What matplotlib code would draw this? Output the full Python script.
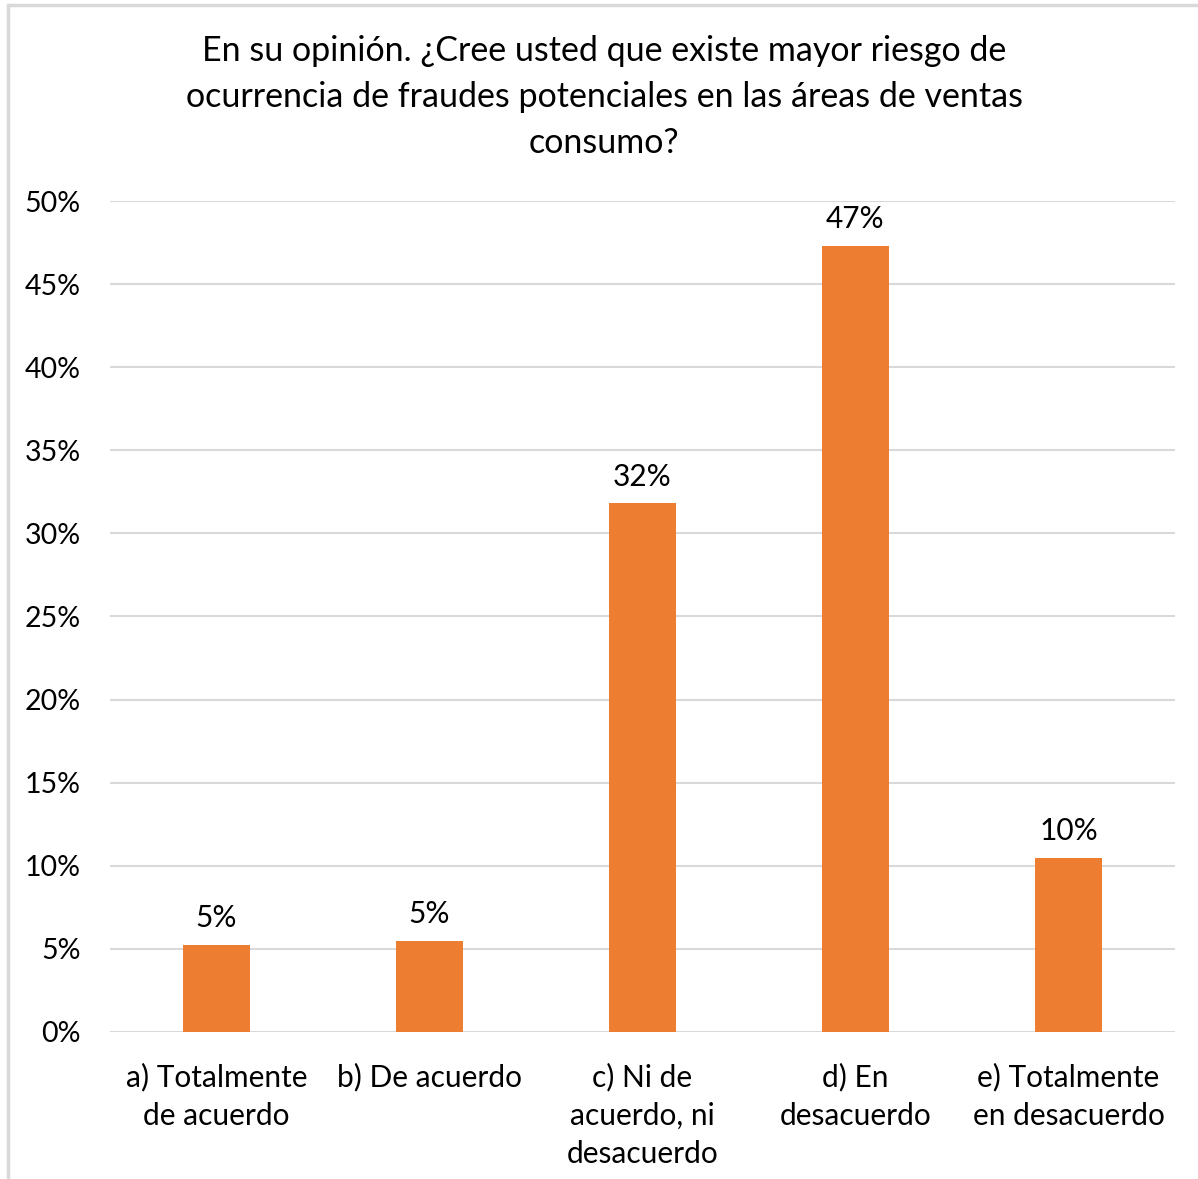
import matplotlib
matplotlib.use("Agg")
import matplotlib.pyplot as plt
from matplotlib.ticker import FuncFormatter, MultipleLocator
from matplotlib.patches import Rectangle

plt.rcParams["font.family"] = ["Lato", "DejaVu Sans"]

# Survey answers and their shares
categories = [
    "a) Totalmente\nde acuerdo",
    "b) De acuerdo",
    "c) Ni de\nacuerdo, ni\ndesacuerdo",
    "d) En\ndesacuerdo",
    "e) Totalmente\nen desacuerdo",
]
shares = [0.0524, 0.0548, 0.318, 0.473, 0.1048]
title = ("En su opinión. ¿Cree usted que existe mayor riesgo de\n"
         "ocurrencia de fraudes potenciales en las áreas de ventas\n"
         "consumo?")

W, H = 1198, 1179
fig = plt.figure(figsize=(W / 100, H / 100), dpi=100)
fig.patch.set_facecolor("white")

# light chart-area frame (top and left edges visible)
fig.add_artist(Rectangle((8 / W, -0.01), 1.2, 1 - 5 / H + 0.01,
                         transform=fig.transFigure, fill=False,
                         edgecolor="#D9D9D9", linewidth=2.5))

ax = fig.add_axes([110 / W, 1 - 1032 / H, (1175 - 110) / W, (1032 - 201) / H])
x = list(range(len(categories)))
bars = ax.bar(x, shares, width=0.315, color="#ED7D31", zorder=3)

ax.set_xlim(-0.5, len(categories) - 0.5)
ax.set_ylim(0, 0.5)
ax.yaxis.set_major_locator(MultipleLocator(0.05))
ax.yaxis.set_major_formatter(FuncFormatter(lambda v, p: f"{v * 100:.0f}%"))
ax.grid(axis="y", color="#D9D9D9", linewidth=1.5, zorder=0)
for s in ax.spines.values():
    s.set_visible(False)
ax.tick_params(axis="both", length=0, colors="#000000")
ax.tick_params(axis="y", pad=21, labelsize=20.5)
ax.tick_params(axis="x", pad=22, labelsize=21.5)
ax.set_xticks(x)
ax.set_xticklabels(categories, linespacing=1.45)

for b, v in zip(bars, shares):
    ax.annotate(f"{v * 100:.0f}%", (b.get_x() + b.get_width() / 2, v),
                xytext=(0, 9), textcoords="offset points",
                ha="center", va="bottom", fontsize=21.5)

fig.text(604 / W, 1 - 97 / H, title, ha="center", va="center",
         fontsize=24.5, linespacing=1.52)

fig.savefig("out.png", dpi=100)
